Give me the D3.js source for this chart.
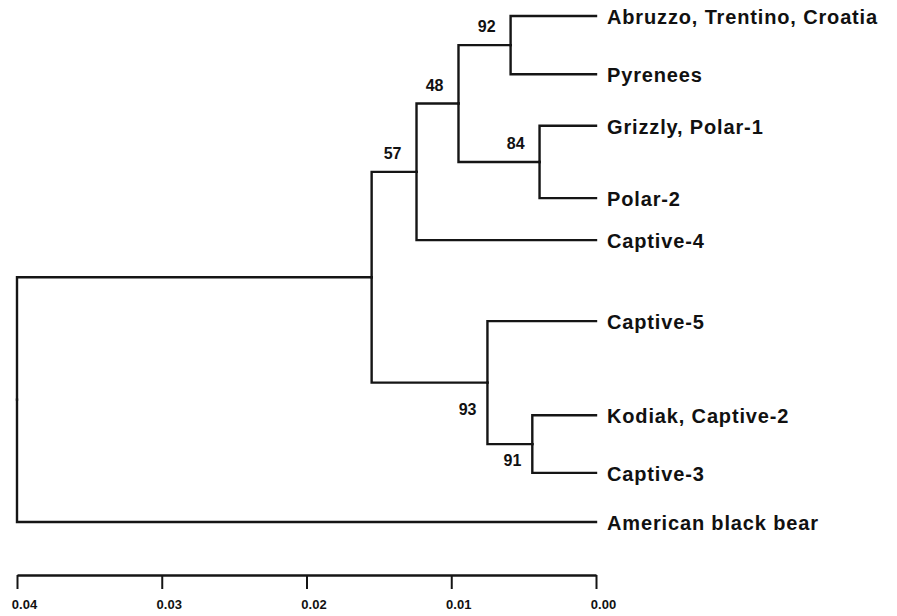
<!DOCTYPE html>
<html>
<head>
<meta charset="utf-8">
<script src="https://cdn.jsdelivr.net/npm/d3@7"></script>
<style>
  body { margin: 0; background: #fff; }
  text { font-family: "Liberation Sans", Arial, Helvetica, sans-serif; font-weight: bold; fill: #111; }
</style>
</head>
<body>
<script>
// leaves, top to bottom, with their row position
const leafNames = ["Abruzzo, Trentino, Croatia", "Pyrenees", "Grizzly, Polar-1", "Polar-2",
  "Captive-4", "Captive-5", "Kodiak, Captive-2", "Captive-3", "American black bear"];
const leafRows = [0, 1.15, 2.17, 3.6, 4.43, 6.03, 7.89, 9.03, 10];
const leafParents = ["n4", "n4", "n5", "n5", "n2", "n6", "n7", "n7", "root"];

// internal nodes: distance from the tips (scale units) and bootstrap support
const nodeIds = ["root", "n1", "n2", "n3", "n4", "n5", "n6", "n7"];
const nodeParents = ["", "root", "n1", "n2", "n3", "n3", "n1", "n6"];
const nodeHeights = [0.04, 0.0155, 0.0124, 0.0095, 0.0059, 0.0039, 0.0075, 0.0044];
const nodeSupport = [null, null, 57, 48, 92, 84, 93, 91];

const axisTicks = [0.04, 0.03, 0.02, 0.01, 0.0];

const width = 897, height = 616;
const svg = d3.select("body").append("svg")
  .attr("width", width)
  .attr("height", height);

const x = d3.scaleLinear().domain([0.04, 0]).range([17, 596]);
const y = d3.scaleLinear().domain([0, 10]).range([16, 522]);

const rows = [];
nodeIds.forEach((id, i) => rows.push({ id, parent: nodeParents[i] || null, h: nodeHeights[i], support: nodeSupport[i] }));
leafNames.forEach((id, i) => rows.push({ id, parent: leafParents[i], h: 0, row: leafRows[i] }));

const root = d3.stratify().id(d => d.id).parentId(d => d.parent)(rows);
// keep children in the picture's order
root.sort((a, b) => leafOrder(a) - leafOrder(b));
function leafOrder(n) {
  return d3.min(n.leaves(), l => l.data.row);
}
root.eachAfter(n => {
  n.px = x(n.data.h);
  if (!n.children) n.py = y(n.data.row);
  else n.py = (n.children[0].py + n.children[n.children.length - 1].py) / 2;
});

const tree = svg.append("g")
  .attr("fill", "none")
  .attr("stroke", "#151515")
  .attr("stroke-width", 2.4)
  .attr("stroke-linecap", "square");

tree.selectAll("path")
  .data(root.links())
  .enter()
  .append("path")
  .attr("d", l => `M${l.source.px},${l.source.py}V${l.target.py}H${l.target.px}`);

// leaf labels
svg.selectAll("text.leaf")
  .data(root.leaves())
  .enter()
  .append("text")
  .attr("class", "leaf")
  .attr("x", d => d.px + 11)
  .attr("y", d => d.py + 8)
  .attr("font-size", 20)
  .attr("letter-spacing", 0.85)
  .text(d => d.id);

// support values on the branches; two of them sit under the branch
const below = { n6: 32, n7: 22 };
svg.selectAll("text.support")
  .data(root.descendants().filter(d => d.data.support != null))
  .enter()
  .append("text")
  .attr("class", "support")
  .attr("text-anchor", "end")
  .attr("font-size", 16)
  .attr("x", d => d.px - (below[d.id] ? 11 : 15))
  .attr("y", d => d.py + (below[d.id] || -13))
  .text(d => d.data.support);

// scale bar
const axis = svg.append("g")
  .attr("transform", "translate(0,575)")
  .call(d3.axisBottom(x)
    .tickValues(axisTicks)
    .tickSize(14)
    .tickSizeOuter(0)
    .tickFormat(d3.format(".2f")));
axis.select(".domain").attr("stroke", "#151515").attr("stroke-width", 2.5);
axis.selectAll(".tick line").attr("stroke", "#151515").attr("stroke-width", 2);
axis.selectAll(".tick text")
  .attr("y", 34)
  .attr("dy", 0)
  .attr("dx", 7)
  .attr("font-size", 13)
  .attr("font-family", "Liberation Sans, Arial, sans-serif")
  .attr("font-weight", "bold")
  .attr("fill", "#111");
</script>
</body>
</html>
